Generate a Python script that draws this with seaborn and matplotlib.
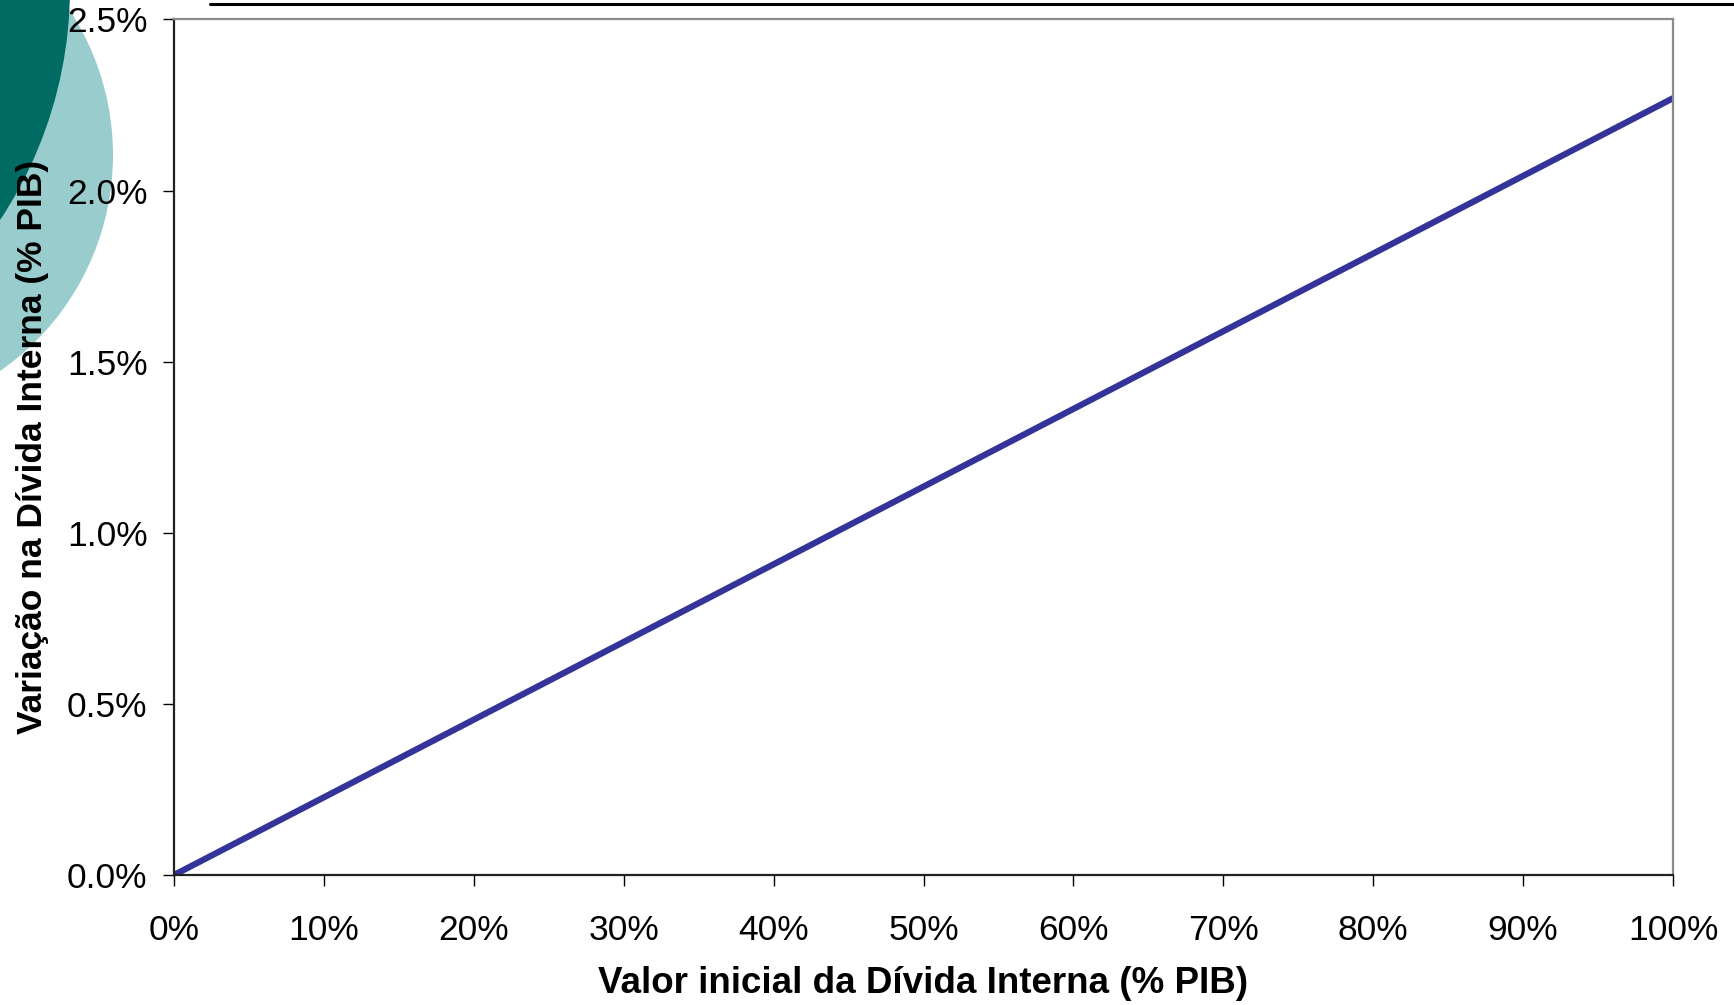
import matplotlib
matplotlib.use("Agg")
import matplotlib.pyplot as plt
from matplotlib.patches import Circle
from matplotlib.lines import Line2D
from matplotlib.ticker import PercentFormatter, MultipleLocator
import seaborn as sns
import pandas as pd

# Initial domestic debt (share of GDP) and the resulting change in debt (share of GDP)
valor_inicial = [0.0, 0.10, 0.20, 0.30, 0.40, 0.50, 0.60, 0.70, 0.80, 0.90, 1.00]
variacao = [0.0, 0.00227, 0.00454, 0.00681, 0.00908, 0.01135,
            0.01362, 0.01589, 0.01816, 0.02043, 0.0227]

x_label = "Valor inicial da Dívida Interna (% PIB)"
y_label = "Variação na Dívida Interna (% PIB)"

sns.set_theme(style="white")
plt.rcParams["font.family"] = ["Liberation Sans", "DejaVu Sans"]

W, H, DPI = 1734, 1005, 100
fig = plt.figure(figsize=(W / DPI, H / DPI), dpi=DPI)
fig.patch.set_facecolor("white")

# Decorative slide circles in the top-left corner (pixel coordinates)
fig.add_artist(Circle((-150, H - 155), 263, transform=None,
                      facecolor="#99CCCC", edgecolor="none", zorder=-2))
fig.add_artist(Circle((-350, H + 12), 420, transform=None,
                      facecolor="#006B63", edgecolor="none", zorder=-1))
# Rule across the top of the slide
fig.add_artist(Line2D([210, W], [H - 4, H - 4], transform=None,
                      color="black", linewidth=2.2))

ax = fig.add_axes([174 / W, 1 - 875 / H, (1673 - 174) / W, (875 - 19.5) / H])
ax.set_facecolor("white")

df = pd.DataFrame({"x": valor_inicial, "y": variacao})
sns.lineplot(data=df, x="x", y="y", ax=ax, color="#333399", linewidth=4.5)

ax.set_xlim(0, 1)
ax.set_ylim(0, 0.025)
ax.xaxis.set_major_locator(MultipleLocator(0.1))
ax.yaxis.set_major_locator(MultipleLocator(0.005))
ax.xaxis.set_major_formatter(PercentFormatter(1.0, decimals=0))
ax.yaxis.set_major_formatter(PercentFormatter(1.0, decimals=1))

ax.tick_params(axis="x", direction="out", length=8, width=1, color="black",
               labelsize=25.5, pad=20, bottom=True)
ax.tick_params(axis="y", direction="out", length=8, width=1, color="black",
               labelsize=25.5, pad=11, left=True)
for lbl in ax.get_xticklabels() + ax.get_yticklabels():
    lbl.set_color("black")

for side in ("left", "bottom"):
    ax.spines[side].set_color("#222222")
    ax.spines[side].set_linewidth(1.6)
for side in ("top", "right"):
    ax.spines[side].set_color("#8C8C8C")
    ax.spines[side].set_linewidth(1.6)

ax.set_xlabel(x_label, fontsize=26.5, fontweight="bold", color="black")
ax.set_ylabel(y_label, fontsize=25.5, fontweight="bold", color="black")
ax.xaxis.set_label_coords(0.5, (875 - 983) / (875 - 19.5), transform=ax.transAxes)
ax.yaxis.set_label_coords((33 - 174) / (1673 - 174), 0.5, transform=ax.transAxes)
ax.xaxis.label.set_verticalalignment("center")
ax.yaxis.label.set_verticalalignment("center")

fig.savefig("out.png", dpi=DPI, facecolor="white")
